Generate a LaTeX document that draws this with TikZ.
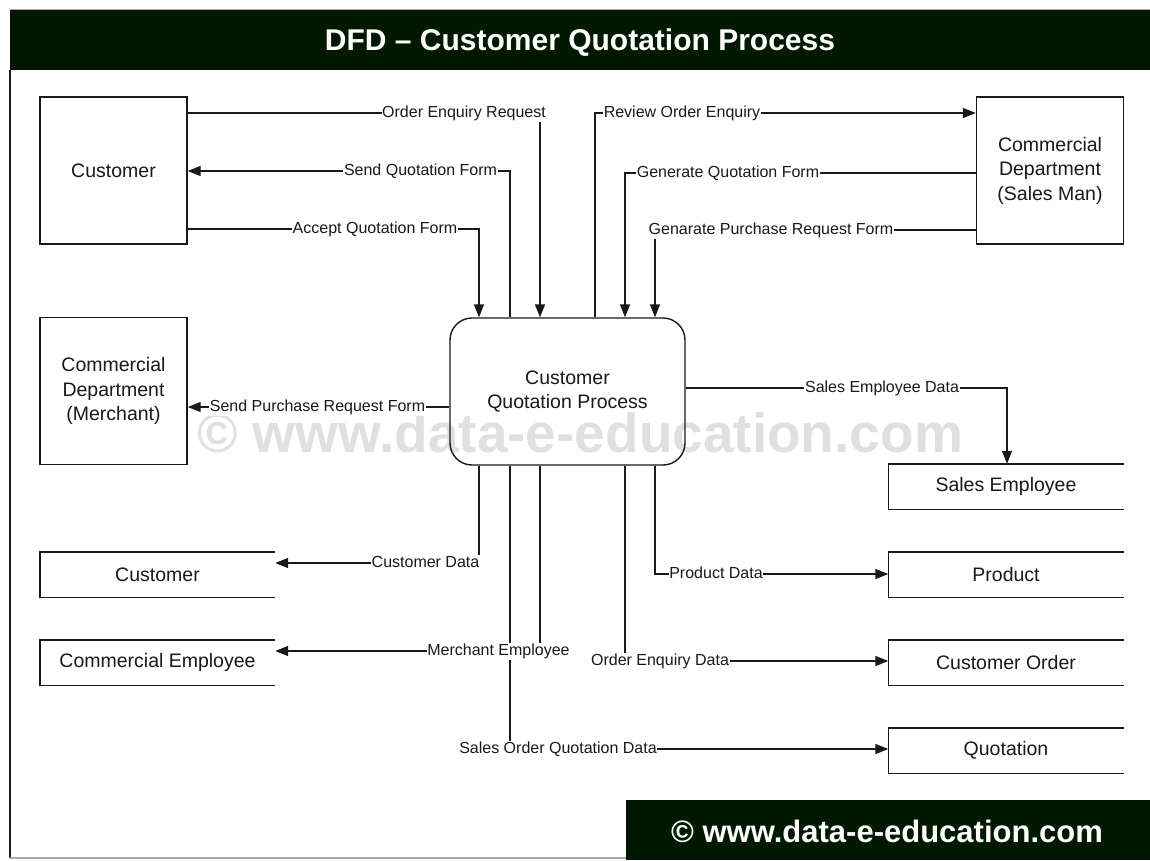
\documentclass[tikz,border=0pt]{standalone}
\usepackage{fontspec}
\setmainfont{Liberation Sans}
\usetikzlibrary{arrows.meta}
\definecolor{bar}{RGB}{1,24,1}
\definecolor{wm}{RGB}{224,224,224}
\definecolor{ink}{RGB}{25,25,25}
\begin{document}
\begin{tikzpicture}[x=1pt,y=-1pt,
  ent/.style={draw=ink, line width=1.4pt, minimum width=147pt, minimum height=147pt, inner sep=0pt, align=center, font=\fontsize{19.5}{24.5}\selectfont, text=ink},
  procbox/.style={draw=ink, line width=1.4pt, rounded corners=22pt, minimum width=235pt, minimum height=147pt, inner sep=0pt, align=center, font=\fontsize{19.5}{24}\selectfont, text=ink},
  store/.style={minimum width=235pt, minimum height=45pt, inner sep=0pt, font=\fontsize{19.5}{24}\selectfont, text=ink},
  storeline/.style={draw=ink, line width=1.4pt},
  flow/.style={draw=ink, line width=1.4pt},
  arr/.style={flow, -{Triangle[length=13pt,width=10pt]}},
  lbl/.style={fill=white, inner xsep=0.6pt, inner ysep=1pt, text height=11.5pt, text depth=3.5pt, font=\fontsize{16}{18}\selectfont, text=ink}]
\useasboundingbox (0,0) rectangle (1150,860);
% frame and bars
\fill[white] (0,0) rectangle (1150,860);
\node[font=\bfseries\fontsize{55}{60}\selectfont, text=wm, anchor=base] (wmark) at (580,452) {© www.data-e-education.com};
\fill[bar] (10,10) rectangle (1150,70);
\draw[gray!70, line width=1pt] (10,9) -- (1150,9);
\draw[ink, line width=1.6pt] (10,70) -- (10,858);
\draw[gray!70, line width=1.2pt] (10,858) -- (626,858);
\fill[bar] (626,800) rectangle (1150,860);
\node[font=\bfseries\fontsize{30}{34}\selectfont, text=white, anchor=base] (title) at (580,50) {DFD – Customer Quotation Process};
\node[font=\bfseries\fontsize{31}{34}\selectfont, text=white, anchor=base] (foot) at (887,842) {© www.data-e-education.com};
% entities and process
\node[ent] (cust) at (113.5,170.5) {Customer};
\node[ent] (sales) at (1050,170.5) {Commercial\\Department\\(Sales Man)};
\node[ent] (merch) at (113.5,391) {Commercial\\Department\\(Merchant)};
\node[procbox] (qp) at (567.5,391.5) {Customer\\Quotation Process};
% data stores
\node[store] (scust) at (157.5,574.5) {Customer};
\node[store] (semp) at (157.5,662.5) {Commercial Employee};
\node[store] (ssales) at (1006,486.5) {Sales Employee};
\node[store] (sprod) at (1006,574.5) {Product};
\node[store] (sorder) at (1006,662.5) {Customer Order};
\node[store] (squot) at (1006,750.5) {Quotation};
\foreach \s in {scust,semp,ssales,sprod,sorder,squot}
  \draw[storeline] (\s.north east) -- (\s.north west) -- (\s.south west) -- (\s.south east);
% flows
\draw[arr] (cust.east |- 0,113) -| (qp.north -| 540,0);
\draw[arr] (qp.north -| 510,0) |- (cust.east |- 0,171);
\draw[arr] (cust.east |- 0,229) -| (qp.north -| 479,0);
\draw[arr] (qp.north -| 595,0) |- (sales.west |- 0,113);
\draw[arr] (sales.west |- 0,173) -| (qp.north -| 625,0);
\draw[arr] (sales.west |- 0,230) -| (qp.north -| 655,0);
\draw[arr] (qp.west |- 0,407) -- (merch.east |- 0,407);
\draw[arr] (qp.east |- 0,388) -| (ssales.north -| 1007,0);
\draw[arr] (qp.south -| 479,0) |- (scust.east |- 0,563);
\draw[arr] (qp.south -| 540,0) |- (semp.east |- 0,651);
\draw[arr] (qp.south -| 510,0) |- (squot.west |- 0,749);
\draw[arr] (qp.south -| 625,0) |- (sorder.west |- 0,661);
\draw[arr] (qp.south -| 655,0) |- (sprod.west |- 0,574);
% labels
\node[lbl] (l1) at (464,113) {Order Enquiry Request};
\node[lbl] (l2) at (420.5,171) {Send Quotation Form};
\node[lbl] (l3) at (375,229) {Accept Quotation Form};
\node[lbl] (l4) at (682,113) {Review Order Enquiry};
\node[lbl] (l5) at (728,173) {Generate Quotation Form};
\node[lbl] (l6) at (771,230) {Genarate Purchase Request Form};
\node[lbl] (l7) at (317.5,407) {Send Purchase Request Form};
\node[lbl] (l8) at (882,388) {Sales Employee Data};
\node[lbl] (l9) at (425.5,563) {Customer Data};
\node[lbl] (l10) at (498.5,651) {Merchant Employee};
\node[lbl] (l11) at (558,749) {Sales Order Quotation Data};
\node[lbl] (l12) at (660,661) {Order Enquiry Data};
\node[lbl] (l13) at (716,574) {Product Data};
\end{tikzpicture}
\end{document}
